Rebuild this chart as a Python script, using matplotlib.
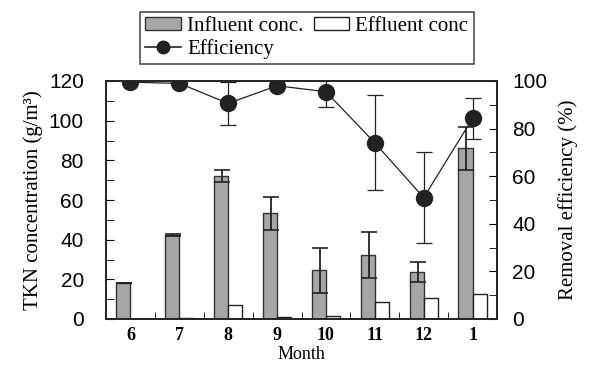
import numpy as np
import matplotlib.pyplot as plt
from matplotlib.ticker import MultipleLocator
from matplotlib.lines import Line2D

# values
months = ["6", "7", "8", "9", "10", "11", "12", "1"]
influent = [18, 42.4, 72, 53.3, 24.5, 32.3, 23.5, 86]
influent_err = [0, 0.5, 3, 8.4, 11.5, 11.7, 5, 11]
effluent = [0, 0.6, 6.9, 1.0, 1.7, 8.4, 10.6, 12.8]
efficiency = [99.5, 99, 90.6, 98, 95.5, 74, 51, 84.3]
efficiency_err = [0, 0, 9, 0, 6.5, 20, 19, 8.7]

serif = "Liberation Serif"
sans = "Liberation Sans"

fig = plt.figure(figsize=(5.93, 3.71), dpi=100)
ax = fig.add_axes([106 / 593, 52 / 371, 391 / 593, 238 / 371])
ax2 = ax.twinx()

x = np.arange(len(months))
w = 0.29
b1 = ax.bar(x - w / 2, influent, w, color="#a6a6a6", edgecolor="#333333",
            linewidth=1, label="Influent conc.")
ax.errorbar(x - w / 2 + 0.02, influent, yerr=influent_err, fmt="none",
            ecolor="#222222", elinewidth=1.3, capsize=6, capthick=1.2)
b2 = ax.bar(x + w / 2, effluent, w, color="white", edgecolor="#222222",
            linewidth=1, label="Effluent conc")

ax2.errorbar(x, efficiency, yerr=efficiency_err, color="#222222",
             marker="o", markersize=11.5, linewidth=0.9, elinewidth=0.9,
             capsize=6, capthick=0.9)
ln = Line2D([], [], color="#222222", marker="o", markersize=9, linewidth=1.2)

ax.set_xlim(-0.5, len(months) - 0.5)
ax.set_ylim(0, 120)
ax2.set_ylim(0, 100)
ax.yaxis.set_major_locator(MultipleLocator(20))
ax.yaxis.set_minor_locator(MultipleLocator(10))
ax2.yaxis.set_major_locator(MultipleLocator(20))
ax2.yaxis.set_minor_locator(MultipleLocator(10))

ax.set_xticks(x)
ax.set_xticklabels(months, fontfamily=serif, fontweight="bold", fontsize=13)
ax.set_xticks(x[:-1] + 0.5, minor=True)
ax.tick_params(axis="x", which="major", length=0, pad=6)
ax.tick_params(axis="x", which="minor", direction="in", length=5)
ax.tick_params(axis="y", which="both", direction="in", length=6, labelsize=15, pad=16)
ax2.tick_params(axis="y", which="both", direction="in", length=6, labelsize=15, pad=11)
for lab in ax.get_yticklabels() + ax2.get_yticklabels():
    lab.set_fontfamily(sans)

ax.set_xlabel("Month", fontfamily=serif, fontsize=13, labelpad=1)
ax.set_ylabel("TKN concentration (g/m³)", fontfamily=serif, fontsize=15, labelpad=4)
ax2.set_ylabel("Removal efficiency (%)", fontfamily=serif, fontsize=15, labelpad=8)

for a in (ax, ax2):
    for s in a.spines.values():
        s.set_linewidth(1.2)
        s.set_color("#222222")

# ncol=2 fills column-wise: Influent/Efficiency in col 1, Effluent in col 2
leg = fig.legend([b1, ln, b2], ["Influent conc.", "Efficiency", "Effluent conc"],
                 loc="upper left", bbox_to_anchor=(140 / 593, 1 - 12 / 371),
                 ncol=2, frameon=True, fancybox=False, edgecolor="#222222",
                 prop={"family": serif, "size": 15}, handlelength=1.7,
                 handleheight=0.6, handletextpad=0.3, columnspacing=0.5,
                 borderpad=0.25, labelspacing=0.15, borderaxespad=0)
leg.get_frame().set_linewidth(1.2)

fig.savefig("out.png", dpi=100)
